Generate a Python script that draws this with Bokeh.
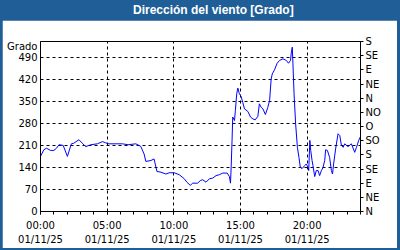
from bokeh.plotting import figure
from bokeh.models import Range1d, LinearAxis, FixedTicker, Div
from bokeh.layouts import column
from bokeh.embed import file_html
from bokeh.resources import INLINE

title_text = "Dirección del viento [Grado]"
y_unit = "Grado"

# minutes since 00:00 on 01/11/25
minutes = [0, 15, 27, 45, 60, 72, 83, 102, 121, 139, 150, 173, 188, 203, 226, 256, 279, 293, 308, 331,
           369, 394, 429, 451, 466, 474, 497, 511, 524, 542, 564, 579, 602, 624, 647, 659, 674, 685, 707, 719,
           730, 745, 760, 775, 790, 805, 820, 840, 850, 855, 858, 862, 865, 873, 877, 883, 888, 895, 903, 910,
           918, 933, 945, 956, 966, 978, 985, 993, 1001, 1012, 1023, 1031, 1038, 1043, 1053, 1065, 1076, 1091,
           1106, 1116, 1125, 1129, 1133, 1136, 1141, 1148, 1156, 1163, 1169, 1177, 1189, 1196, 1204, 1207,
           1212, 1216, 1222, 1226, 1234, 1241, 1249, 1256, 1264, 1271, 1279, 1283, 1291, 1301, 1309, 1314,
           1319, 1328, 1339, 1347, 1354, 1362, 1369, 1384, 1399, 1414, 1422, 1432, 1440]
direction = [175, 196, 201, 194, 194, 201, 212, 210, 175, 215, 217, 228, 217, 206, 212, 215, 222, 218, 215, 215,
             215, 212, 215, 207, 183, 159, 162, 167, 127, 125, 119, 123, 123, 117, 104, 93, 83, 90, 90, 98,
             101, 93, 104, 106, 114, 117, 122, 122, 111, 90, 141, 226, 300, 289, 321, 374, 392, 374, 365, 347,
             326, 318, 300, 294, 291, 302, 342, 331, 326, 308, 331, 353, 421, 437, 450, 471, 480, 485,
             480, 471, 480, 506, 522, 469, 374, 279, 204, 172, 141, 136, 146, 151, 141, 130,
             226, 194, 162, 146, 111, 130, 130, 114, 130, 139, 162, 196, 194, 172, 130, 119,
             151, 199, 247, 241, 210, 204, 215, 206, 215, 188, 204, 226, 238]

x_ticks = [0, 300, 600, 900, 1200]
x_time_labels = ["00:00", "05:00", "10:00", "15:00", "20:00"]
x_date_labels = ["01/11/25"] * 5
x_minor = list(range(0, 1441, 60))
y_ticks = [0, 70, 140, 210, 280, 350, 420, 490]
compass_ticks = list(range(0, 541, 45))
compass_labels = ["N", "NE", "E", "SE", "S", "SO", "O", "NO", "N", "NE", "E", "SE", "S"]

BLUE = "#1f5e96"
FONT = "DejaVu Sans"
FS = "10px"

p = figure(frame_width=320, frame_height=170, min_border_left=38, min_border_right=37,
           min_border_top=21, min_border_bottom=37,
           x_range=Range1d(0, 1440), y_range=Range1d(0, 540),
           output_backend="svg", toolbar_location=None,
           border_fill_color="white", background_fill_color="white")
p.outline_line_color = "black"
p.outline_line_width = 1
p.margin = (0, 3, 2, 2)

p.line(minutes, direction, color="#0000ff", line_width=1)

# bottom axis: times
xa = p.xaxis[0]
xa.ticker = FixedTicker(ticks=x_ticks, minor_ticks=x_minor)
xa.major_label_overrides = {t: s for t, s in zip(x_ticks, x_time_labels)}
xa.major_tick_out = 3
xa.major_tick_in = 0
xa.minor_tick_out = 3
xa.minor_tick_in = 0
xa.major_label_standoff = 5
xa.axis_label_standoff = 0
xa.axis_line_color = "black"
xa.major_tick_line_color = "black"
xa.minor_tick_line_color = "black"
xa.major_label_text_font = FONT
xa.major_label_text_font_size = FS
xa.major_label_text_color = "black"

# bottom axis: dates
xa2 = LinearAxis(ticker=FixedTicker(ticks=x_ticks),
                 major_label_overrides={t: s for t, s in zip(x_ticks, x_date_labels)},
                 axis_line_color=None, major_tick_line_color=None, minor_tick_line_color=None,
                 major_tick_out=0, major_tick_in=0, minor_tick_out=0, minor_tick_in=0,
                 axis_label_standoff=0,
                 major_label_standoff=0, major_label_text_font=FONT, major_label_text_font_size=FS,
                 major_label_text_color="black")
p.add_layout(xa2, "below")

# left axis (unit name shown as the topmost label)
ya = p.yaxis[0]
ya.ticker = FixedTicker(ticks=y_ticks + [524])
ya.major_label_overrides = {524: y_unit}
ya.major_tick_out = 0
ya.major_tick_in = 0
ya.minor_tick_line_color = None
ya.major_tick_line_color = None
ya.major_label_standoff = 3
ya.axis_line_color = "black"
ya.major_label_text_font = FONT
ya.major_label_text_font_size = FS
ya.major_label_text_color = "black"

# right axis: compass
ra = LinearAxis(ticker=FixedTicker(ticks=compass_ticks),
                major_label_overrides={t: s for t, s in zip(compass_ticks, compass_labels)},
                major_tick_out=3, major_tick_in=0, minor_tick_line_color=None,
                major_label_standoff=2, axis_line_color="black", major_tick_line_color="black",
                major_label_text_font=FONT, major_label_text_font_size=FS,
                major_label_text_color="black")
p.add_layout(ra, "right")

# grids
p.xgrid.ticker = FixedTicker(ticks=x_ticks[1:])
p.ygrid.ticker = FixedTicker(ticks=y_ticks[1:])
for g in (p.xgrid, p.ygrid):
    g.grid_line_color = "black"
    g.grid_line_dash = "3 3"
    g.grid_line_width = 1

title = Div(text=title_text, width=400, height=20, margin=(0, 0, 0, 0),
            styles={"color": "white", "font-family": "Liberation Sans", "font-weight": "bold",
                    "font-size": "12px", "line-height": "20px", "padding-left": "133px",
                    "box-sizing": "border-box", "white-space": "nowrap"})

layout = column(title, p, width=400, spacing=0,
                styles={"background-color": BLUE})

open("out.html", "w").write(file_html(layout, INLINE))
